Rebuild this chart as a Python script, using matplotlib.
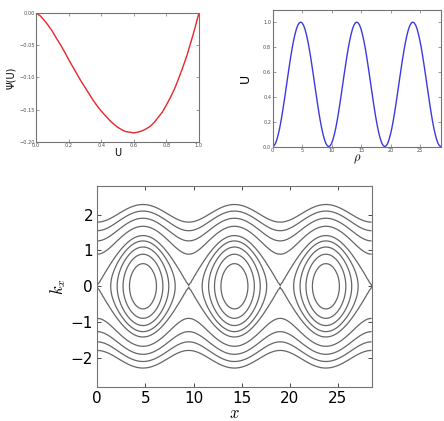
import matplotlib.pyplot as plt
import numpy as np

plt.rcParams['mathtext.fontset'] = 'cm'
plt.rcParams['xtick.direction'] = 'in'
plt.rcParams['ytick.direction'] = 'in'

# Psi(U)
u_grid = [0.0, 0.025, 0.05, 0.075, 0.10, 0.125, 0.15, 0.175, 0.20, 0.225, 0.25,
          0.275, 0.30, 0.325, 0.35, 0.375, 0.40, 0.425, 0.45, 0.475, 0.50,
          0.525, 0.55, 0.575, 0.60, 0.625, 0.65, 0.675, 0.70, 0.725, 0.75,
          0.775, 0.80, 0.825, 0.85, 0.875, 0.90, 0.925, 0.95, 0.975, 1.0]
psi_vals = [0.0, -0.004, -0.011, -0.019, -0.028, -0.039, -0.049, -0.060, -0.072, -0.083, -0.094,
            -0.105, -0.115, -0.125, -0.135, -0.144, -0.152, -0.159, -0.166, -0.172, -0.177,
            -0.181, -0.184, -0.185, -0.186, -0.185, -0.183, -0.180, -0.176, -0.170, -0.162,
            -0.154, -0.143, -0.131, -0.118, -0.102, -0.085, -0.067, -0.046, -0.024, 0.0]

# U(rho) over one period, repeated 3 times
period = 9.5
u_half = [0.0, 0.006, 0.024, 0.055, 0.096, 0.146, 0.206, 0.273, 0.346, 0.422,
          0.5, 0.578, 0.654, 0.727, 0.794, 0.854, 0.904, 0.946, 0.976, 0.994, 1.0]
u_period = u_half + u_half[-2:0:-1]
u_rho = u_period * 3 + [0.0]
rho = np.linspace(0, 3 * period, len(u_rho))

# phase-space contour levels (H = k^2/2 - U)
levels = [-0.8, -0.6, -0.4, -0.2, 0.0, 0.4, 0.8, 1.2, 1.6]

fig = plt.figure(figsize=(4.44, 4.21), dpi=100)

edge = '0.45'

# top left: Psi(U)
ax1 = fig.add_axes([0.081, 0.663, 0.367, 0.306])
ax1.plot(u_grid, psi_vals, color='#e8262a', lw=1.0)
ax1.set_xlim(0, 1)
ax1.set_ylim(-0.2, 0)
ax1.set_xticks([0, 0.2, 0.4, 0.6, 0.8, 1.0])
ax1.set_yticks([0, -0.05, -0.10, -0.15, -0.20])
ax1.set_xticklabels(['0.0', '0.2', '0.4', '0.6', '0.8', '1.0'])
ax1.set_yticklabels(['0.00', '\u22120.05', '\u22120.10', '\u22120.15', '\u22120.20'])
ax1.tick_params(labelsize=3.6, length=2, width=0.4, top=True, right=True, pad=1, colors='0.3')
ax1.set_xlabel('U', fontsize=7, labelpad=0)
ax1.set_ylabel('\u03a8(U)', fontsize=7, labelpad=2)

# top right: U(rho)
ax2 = fig.add_axes([0.614, 0.652, 0.379, 0.325])
ax2.plot(rho, u_rho, color='#3a3ae0', lw=1.0)
ax2.set_xlim(0, 3 * period)
ax2.set_ylim(0, 1.1)
ax2.set_xticks([0, 5, 10, 15, 20, 25])
ax2.set_yticks([0, 0.2, 0.4, 0.6, 0.8, 1.0])
ax2.set_yticklabels(['0.0', '0.2', '0.4', '0.6', '0.8', '1.0'])
ax2.tick_params(labelsize=3.6, length=2, width=0.4, top=True, right=True, pad=1, colors='0.3')
ax2.set_xlabel(r'$\rho$', fontsize=9, labelpad=0)
ax2.set_ylabel('U', fontsize=9, labelpad=8)

# bottom: phase portrait
ax3 = fig.add_axes([0.219, 0.0815, 0.618, 0.477])
xg = np.linspace(0, 3 * period, 800)
kg = np.linspace(-2.8, 2.8, 500)
X, K = np.meshgrid(xg, kg)
U = np.interp(X, rho, u_rho)
H = 0.5 * K ** 2 - U
ax3.contour(X, K, H, levels=levels, colors='0.4', linewidths=0.9, linestyles='solid')
ax3.set_xlim(0, 3 * period)
ax3.set_ylim(-2.8, 2.8)
ax3.set_xticks([0, 5, 10, 15, 20, 25])
ax3.set_yticks([-2, -1, 0, 1, 2])
ax3.set_yticklabels(['\u22122', '\u22121', '0', '1', '2'])
ax3.tick_params(labelsize=11, length=3, width=0.5, top=True, right=True, pad=3)
ax3.set_xlabel(r'$x$', fontsize=12, labelpad=-1.5)
ax3.set_ylabel(r'$k_x$', fontsize=12, labelpad=2)

for ax in (ax1, ax2, ax3):
    for s in ax.spines.values():
        s.set_color(edge)
        s.set_linewidth(0.8)

fig.savefig('out.png', dpi=100)
